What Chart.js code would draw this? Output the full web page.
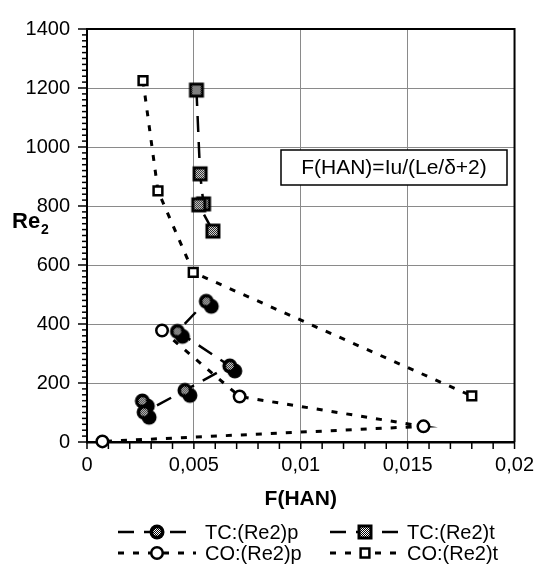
<!DOCTYPE html>
<html><head><meta charset="utf-8">
<script src="https://cdn.jsdelivr.net/npm/chart.js@4.4.1/dist/chart.umd.min.js"></script>
<style>html,body{margin:0;padding:0;background:#fff;}</style>
</head><body>
<canvas id="c" width="545" height="583"></canvas>
<script>
// ---- data ----
const xTickValues = [0, 0.005, 0.01, 0.015, 0.02];
const xTickLabels = ['0', '0,005', '0,01', '0,015', '0,02'];
const yTickValues = [0, 200, 400, 600, 800, 1000, 1200, 1400];
const yTickLabels = ['0', '200', '400', '600', '800', '1000', '1200', '1400'];

const seriesNames = ['TC:(Re2)p', 'TC:(Re2)t', 'CO:(Re2)p', 'CO:(Re2)t'];

const tcP_x = [0.00259, 0.00267, 0.00458, 0.00668, 0.00423, 0.00558];
const tcP_y = [139, 101, 175, 258, 375, 477];

const tcT_x = [0.00512, 0.00529, 0.00545, 0.00523, 0.00589];
const tcT_y = [1193, 909, 807, 804, 715];

const coP_x = [0.00351, 0.00714, 0.01574, 0.00072];
const coP_y = [378, 154, 53, 2];

const coT_x = [0.00262, 0.00332, 0.00497, 0.0180];
const coT_y = [1225, 851, 575, 156];

const annotationText = 'F(HAN)=Iu/(Le/δ+2)';
const xTitle = 'F(HAN)';
const yTitleMain = 'Re';
const yTitleSub = '2';

// ---- styles ----
const FONT = '"Liberation Sans", Arial, Helvetica, sans-serif';
Chart.defaults.font.family = FONT;
Chart.defaults.font.size = 20;
Chart.defaults.color = '#000';

function makePatternCanvas() {
  const p = document.createElement('canvas'); p.width = 2; p.height = 2;
  const g = p.getContext('2d');
  g.fillStyle = '#fff'; g.fillRect(0, 0, 2, 2);
  g.fillStyle = '#000'; g.fillRect(0, 0, 1, 1); g.fillRect(1, 1, 1, 1);
  return p;
}
const patCanvas = makePatternCanvas();

function tcCircleMarker(shadow) {
  const s = 34, c = 17;
  const cv = document.createElement('canvas'); cv.width = s; cv.height = s;
  const g = cv.getContext('2d');
  if (shadow) { g.fillStyle = '#000'; g.beginPath(); g.arc(c + 5, c + 5, 7.5, 0, 2 * Math.PI); g.fill(); }
  g.fillStyle = '#000'; g.beginPath(); g.arc(c, c, 7.5, 0, 2 * Math.PI); g.fill();
  g.fillStyle = g.createPattern(patCanvas, 'repeat');
  g.beginPath(); g.arc(c, c, 3.8, 0, 2 * Math.PI); g.fill();
  return cv;
}
function tcSquareMarker() {
  const s = 20, c = 10;
  const cv = document.createElement('canvas'); cv.width = s; cv.height = s;
  const g = cv.getContext('2d');
  g.fillStyle = '#000'; g.fillRect(c - 7.5, c - 7.5, 15, 15);
  g.fillStyle = g.createPattern(patCanvas, 'repeat');
  g.fillRect(c - 4.5, c - 4.5, 9, 9);
  return cv;
}
const mkTcP = tcCircleMarker(true);
const mkTcPLegend = tcCircleMarker(false);
const mkTcT = tcSquareMarker();

const toPts = (xs, ys) => xs.map((x, i) => ({ x: x, y: ys[i] }));
const dashTC = [16, 10];
const dashCO = [6, 9];

const datasets = [
  { label: seriesNames[0], data: toPts(tcP_x, tcP_y), borderColor: '#000', borderWidth: 2.5, borderDash: dashTC,
    pointStyle: mkTcP, pointRadius: 8, showLine: true, fill: false, tension: 0, clip: false },
  { label: seriesNames[1], data: toPts(tcT_x, tcT_y), borderColor: '#000', borderWidth: 2.5, borderDash: dashTC,
    pointStyle: mkTcT, pointRadius: 8, showLine: true, fill: false, tension: 0, clip: false },
  { label: seriesNames[2], data: toPts(coP_x, coP_y), borderColor: '#000', borderWidth: 3, borderDash: dashCO,
    pointStyle: 'circle', pointRadius: 5.75, pointBorderWidth: 2.5, pointBackgroundColor: '#fff', pointBorderColor: '#000',
    showLine: true, fill: false, tension: 0, clip: false },
  { label: seriesNames[3], data: toPts(coT_x, coT_y), borderColor: '#000', borderWidth: 3, borderDash: dashCO,
    pointStyle: 'rect', pointRadius: 6.2, pointBorderWidth: 2.5, pointBackgroundColor: '#fff', pointBorderColor: '#000',
    showLine: true, fill: false, tension: 0, clip: false }
];

function drawMarker(ctx, i, x, y) {
  if (i === 0) { ctx.drawImage(mkTcPLegend, x - mkTcPLegend.width / 2, y - mkTcPLegend.height / 2); return; }
  if (i === 1) { ctx.drawImage(mkTcT, x - mkTcT.width / 2, y - mkTcT.height / 2); return; }
  ctx.save();
  ctx.setLineDash([]); ctx.lineWidth = 2.5; ctx.strokeStyle = '#000'; ctx.fillStyle = '#fff';
  ctx.beginPath();
  if (i === 2) ctx.arc(x, y, 5.75, 0, 2 * Math.PI);
  else { const h = 6.2 * Math.SQRT1_2; ctx.rect(x - h, y - h, 2 * h, 2 * h); }
  ctx.fill(); ctx.stroke();
  ctx.restore();
}

const decorPlugin = {
  id: 'decor',
  beforeDatasetsDraw(chart) {
    const ctx = chart.ctx;
    // annotation box
    ctx.save();
    const bx = 281, by = 150, bw = 226, bh = 35;
    ctx.fillStyle = '#fff'; ctx.fillRect(bx, by, bw, bh);
    ctx.strokeStyle = '#000'; ctx.lineWidth = 1.5; ctx.strokeRect(bx, by, bw, bh);
    ctx.fillStyle = '#000'; ctx.font = '21px ' + FONT; ctx.textAlign = 'center'; ctx.textBaseline = 'middle';
    ctx.fillText(annotationText, bx + bw / 2, by + bh / 2 + 1);
    ctx.restore();
  },
  afterDatasetsDraw(chart) {
    const { ctx, chartArea: a, scales } = chart;
    const xs = scales.x, ys = scales.y;
    ctx.save();
    ctx.strokeStyle = '#000';
    // top & right border
    ctx.lineWidth = 2;
    ctx.beginPath(); ctx.moveTo(a.left, a.top); ctx.lineTo(a.right, a.top); ctx.lineTo(a.right, a.bottom); ctx.stroke();
    // y ticks (major + minor every 20)
    ctx.lineWidth = 1.5;
    for (let k = 0; k <= 70; k++) {
      const py = ys.getPixelForValue(k * 20);
      const len = (k % 10 === 0) ? 9 : 5;
      ctx.beginPath(); ctx.moveTo(a.left - len, py); ctx.lineTo(a.left, py); ctx.stroke();
    }
    // x ticks every 0.001
    for (let k = 0; k <= 20; k++) {
      const px = xs.getPixelForValue(k * 0.001);
      ctx.beginPath(); ctx.moveTo(px, a.bottom); ctx.lineTo(px, a.bottom + 7); ctx.stroke();
    }
    ctx.restore();
  },
  afterDraw(chart) {
    const { ctx, chartArea: a } = chart;
    ctx.save();
    ctx.fillStyle = '#000';
    // x title
    ctx.font = 'bold 21px ' + FONT; ctx.textAlign = 'center'; ctx.textBaseline = 'alphabetic';
    ctx.fillText(xTitle, (a.left + a.right) / 2, 505);
    // y title (horizontal, with subscript)
    ctx.textAlign = 'left';
    ctx.font = 'bold 22px ' + FONT;
    ctx.fillText(yTitleMain, 12, 228);
    const w = ctx.measureText(yTitleMain).width;
    ctx.font = 'bold 14px ' + FONT;
    ctx.fillText(yTitleSub, 12 + w + 1, 234);
    // legend
    const cols = [{ x0: 118, x1: 196, tx: 205 }, { x0: 330, x1: 400, tx: 407 }];
    const rows = [532, 553];
    datasets.forEach((ds, i) => {
      const col = cols[i % 2], y = rows[Math.floor(i / 2)];
      ctx.save();
      ctx.strokeStyle = '#000'; ctx.lineWidth = ds.borderWidth; ctx.setLineDash(ds.borderDash);
      ctx.beginPath(); ctx.moveTo(col.x0, y); ctx.lineTo(col.x1, y); ctx.stroke();
      ctx.restore();
      drawMarker(ctx, i, (col.x0 + col.x1) / 2, y);
      ctx.font = '20px ' + FONT; ctx.textAlign = 'left'; ctx.textBaseline = 'middle'; ctx.fillStyle = '#000';
      ctx.fillText(ds.label, col.tx, y + 1);
    });
    ctx.restore();
  }
};

new Chart(document.getElementById('c'), {
  type: 'scatter',
  data: { datasets },
  options: {
    responsive: false,
    animation: false,
    events: [],
    layout: { padding: { left: 0, right: 23, top: 20, bottom: 0 } },
    plugins: { legend: { display: false }, tooltip: { enabled: false } },
    scales: {
      x: {
        type: 'linear', min: 0, max: 0.02,
        afterBuildTicks: (s) => { s.ticks = xTickValues.map(v => ({ value: v })); },
        afterFit: (s) => { s.height = 141; },
        ticks: {
          autoSkip: false, maxRotation: 0, padding: 11, font: { size: 20 },
          callback: (v) => { const i = xTickValues.findIndex(t => Math.abs(t - v) < 1e-9); return i >= 0 ? xTickLabels[i] : ''; }
        },
        grid: { color: '#8a8a8a', lineWidth: 1, drawTicks: false },
        border: { color: '#000', width: 2.5 }
      },
      y: {
        type: 'linear', min: 0, max: 1400,
        afterBuildTicks: (s) => { s.ticks = yTickValues.map(v => ({ value: v })); },
        afterFit: (s) => { s.width = 87; },
        ticks: {
          padding: 17, font: { size: 20 },
          callback: (v) => { const i = yTickValues.indexOf(v); return i >= 0 ? yTickLabels[i] : ''; }
        },
        grid: { color: '#8a8a8a', lineWidth: 1, drawTicks: false },
        border: { color: '#000', width: 2 }
      }
    }
  },
  plugins: [decorPlugin]
});
</script>
</body></html>
